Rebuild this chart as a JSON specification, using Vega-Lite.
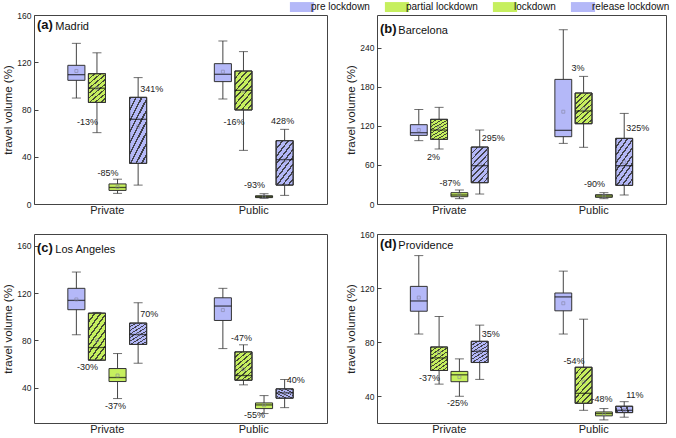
{
  "$schema": "https://vega.github.io/schema/vega-lite/v6.json",
  "background": "white",
  "padding": {"left": 2, "top": 1, "right": 4, "bottom": 0},
  "autosize": {"type": "pad"},
  "datasets": {
    "boxes": [
      {"city": "Madrid", "group": "Private", "phase": "pre lockdown", "min": 89.7, "q1": 104.7, "median": 109.5, "q3": 117.4, "max": 136, "mean": 112.6},
      {"city": "Madrid", "group": "Private", "phase": "partial lockdown", "min": 60.4, "q1": 86, "median": 98, "q3": 110.3, "max": 128, "mean": 98, "note": "-13%", "note_y": 69, "note_side": "L"},
      {"city": "Madrid", "group": "Private", "phase": "lockdown", "min": 9, "q1": 11.5, "median": 14, "q3": 17, "max": 21, "mean": 14.5, "note": "-85%", "note_y": 26, "note_side": "L"},
      {"city": "Madrid", "group": "Private", "phase": "release lockdown", "min": 16, "q1": 34.4, "median": 71.7, "q3": 90.3, "max": 107, "mean": 65.5, "note": "341%", "note_y": 97, "note_side": "R"},
      {"city": "Madrid", "group": "Public", "phase": "pre lockdown", "min": 88.9, "q1": 103.6, "median": 109.8, "q3": 118.8, "max": 138, "mean": 112},
      {"city": "Madrid", "group": "Public", "phase": "partial lockdown", "min": 45.4, "q1": 79.6, "median": 96.2, "q3": 112.6, "max": 129, "mean": 96, "note": "-16%", "note_y": 69, "note_side": "L"},
      {"city": "Madrid", "group": "Public", "phase": "lockdown", "min": 4.8, "q1": 5.4, "median": 6.2, "q3": 7, "max": 8.7, "mean": 6.3, "note": "-93%", "note_y": 16, "note_side": "L"},
      {"city": "Madrid", "group": "Public", "phase": "release lockdown", "min": 7.3, "q1": 16, "median": 37.5, "q3": 53.6, "max": 63.2, "mean": 37, "note": "428%", "note_y": 70, "note_side": "C"},

      {"city": "Barcelona", "group": "Private", "phase": "pre lockdown", "min": 97.2, "q1": 105.3, "median": 109.4, "q3": 121.7, "max": 145, "mean": 113.5},
      {"city": "Barcelona", "group": "Private", "phase": "partial lockdown", "min": 84.4, "q1": 99.2, "median": 113.5, "q3": 129.9, "max": 148.3, "mean": 117, "note": "2%", "note_y": 72.6, "note_side": "L"},
      {"city": "Barcelona", "group": "Private", "phase": "lockdown", "min": 8.2, "q1": 11.2, "median": 13.8, "q3": 17.4, "max": 21.5, "mean": 14, "note": "-87%", "note_y": 32.7, "note_side": "L"},
      {"city": "Barcelona", "group": "Private", "phase": "release lockdown", "min": 15.3, "q1": 32.7, "median": 58.8, "q3": 87.4, "max": 113.5, "mean": 61, "note": "295%", "note_y": 101, "note_side": "R"},
      {"city": "Barcelona", "group": "Public", "phase": "pre lockdown", "min": 93, "q1": 103.3, "median": 113, "q3": 191.2, "max": 267.4, "mean": 141.6},
      {"city": "Barcelona", "group": "Public", "phase": "partial lockdown", "min": 87, "q1": 123.2, "median": 142.7, "q3": 170.3, "max": 195.8, "mean": 146, "note": "3%", "note_y": 208, "note_side": "L"},
      {"city": "Barcelona", "group": "Public", "phase": "lockdown", "min": 8.2, "q1": 10.2, "median": 12.3, "q3": 14.3, "max": 17.4, "mean": 12, "note": "-90%", "note_y": 30, "note_side": "L"},
      {"city": "Barcelona", "group": "Public", "phase": "release lockdown", "min": 13.8, "q1": 28.6, "median": 58.8, "q3": 100.7, "max": 139, "mean": 64, "note": "325%", "note_y": 116, "note_side": "R"},

      {"city": "Los Angeles", "group": "Private", "phase": "pre lockdown", "min": 84.7, "q1": 105.9, "median": 113.8, "q3": 124, "max": 137.8, "mean": 114.6},
      {"city": "Los Angeles", "group": "Private", "phase": "partial lockdown", "min": 63.2, "q1": 63.2, "median": 73.9, "q3": 103, "max": 103.6, "mean": 79.9, "note": "-30%", "note_y": 57.5, "note_side": "L"},
      {"city": "Los Angeles", "group": "Private", "phase": "lockdown", "min": 30.7, "q1": 45.1, "median": 48.5, "q3": 56.1, "max": 68.8, "mean": 50.2, "note": "-37%", "note_y": 24.2, "note_side": "C"},
      {"city": "Los Angeles", "group": "Private", "phase": "release lockdown", "min": 60.6, "q1": 76.5, "median": 84.9, "q3": 94.6, "max": 111.8, "mean": 85, "note": "70%", "note_y": 102.5, "note_side": "R"},
      {"city": "Los Angeles", "group": "Public", "phase": "pre lockdown", "min": 73, "q1": 96.8, "median": 109, "q3": 116, "max": 124, "mean": 105.6},
      {"city": "Los Angeles", "group": "Public", "phase": "partial lockdown", "min": 42.3, "q1": 46.2, "median": 50.2, "q3": 70.2, "max": 76.2, "mean": 55.5, "note": "-47%", "note_y": 82, "note_side": "C"},
      {"city": "Los Angeles", "group": "Public", "phase": "lockdown", "min": 18, "q1": 22.2, "median": 25.3, "q3": 27, "max": 33.2, "mean": 25, "note": "-55%", "note_y": 16.5, "note_side": "L"},
      {"city": "Los Angeles", "group": "Public", "phase": "release lockdown", "min": 23, "q1": 31, "median": 35.5, "q3": 38.9, "max": 46.8, "mean": 35, "note": "40%", "note_y": 46, "note_side": "R"},

      {"city": "Providence", "group": "Private", "phase": "pre lockdown", "min": 85.9, "q1": 102.8, "median": 110.4, "q3": 121.2, "max": 144, "mean": 112.9},
      {"city": "Providence", "group": "Private", "phase": "partial lockdown", "min": 48.8, "q1": 58.9, "median": 68.2, "q3": 76.3, "max": 98.9, "mean": 71.9, "note": "-37%", "note_y": 53.5, "note_side": "L"},
      {"city": "Providence", "group": "Private", "phase": "lockdown", "min": 39.8, "q1": 50.6, "median": 55.7, "q3": 58.2, "max": 67.5, "mean": 54, "note": "-25%", "note_y": 34.6, "note_side": "C"},
      {"city": "Providence", "group": "Private", "phase": "release lockdown", "min": 52.3, "q1": 64.8, "median": 73.1, "q3": 80.5, "max": 92.5, "mean": 73, "note": "35%", "note_y": 86, "note_side": "R"},
      {"city": "Providence", "group": "Public", "phase": "pre lockdown", "min": 85.9, "q1": 103.1, "median": 113.4, "q3": 116.3, "max": 132.5, "mean": 108.7},
      {"city": "Providence", "group": "Public", "phase": "partial lockdown", "min": 29.4, "q1": 34.6, "median": 42, "q3": 61.3, "max": 96.9, "mean": 50.6, "note": "-54%", "note_y": 65.8, "note_side": "L"},
      {"city": "Providence", "group": "Public", "phase": "lockdown", "min": 22.3, "q1": 25.3, "median": 27, "q3": 28.2, "max": 30.7, "mean": 26.5, "note": "-48%", "note_y": 37.5, "note_side": "C"},
      {"city": "Providence", "group": "Public", "phase": "release lockdown", "min": 24.3, "q1": 27.7, "median": 29.4, "q3": 32.4, "max": 35.8, "mean": 29.5, "note": "11%", "note_y": 40.7, "note_side": "R"}
    ]
  },
  "data": {"name": "boxes"},
  "columns": 2,
  "spacing": {"row": 13, "column": 17},
  "resolve": {"scale": {"y": "independent", "x": "independent", "xOffset": "independent"}},
  "config": {
    "font": "Liberation Sans",
    "view": {"stroke": "#444", "strokeWidth": 1},
    "axis": {"grid": false, "domain": false, "labelFont": "Liberation Sans", "titleFont": "Liberation Sans", "labelColor": "#222", "titleColor": "#222", "tickColor": "#444"},
    "axisY": {"tickSize": -4, "labelFontSize": 8.5, "labelPadding": 7, "titleFontSize": 11.5, "titleFontWeight": "normal", "titlePadding": 3},
    "axisX": {"ticks": false, "labelFontSize": 11, "labelPadding": 0, "labelAngle": 0},
    "legend": {"orient": "none", "legendX": 262, "legendY": -14, "padding": 0, "direction": "horizontal", "title": null, "symbolType": "M-2.2,-0.9H2.2V0.9H-2.2Z", "symbolSize": 121, "symbolStrokeColor": "#333", "symbolStrokeWidth": 1, "symbolOpacity": 1, "labelFontSize": 10, "labelFont": "Liberation Sans", "labelColor": "#111", "columnPadding": 12, "labelOffset": 3}
  },
  "concat": [
    {
      "width": 293, "height": 189,
      "title": {"text": "(a)", "subtitle": "\u200b\u00a0\u00a0\u00a0\u00a0\u00a0\u00a0Madrid", "anchor": "start", "frame": "group", "offset": -21, "fontSize": 13, "fontWeight": "bold", "subtitleFontSize": 11, "subtitlePadding": -11.5, "dx": 3, "font": "Liberation Sans", "subtitleFont": "Liberation Sans", "color": "#111", "subtitleColor": "#111"},
      "transform": [{"filter": "datum.city === 'Madrid'"}],
      "encoding": {
        "x": {"field": "group", "type": "nominal", "sort": ["Private", "Public"], "scale": {"paddingInner": 0.4, "paddingOuter": 0.2}, "axis": {"title": null}},
        "xOffset": {"field": "phase", "type": "nominal", "sort": ["pre lockdown", "partial lockdown", "lockdown", "release lockdown"], "scale": {"paddingInner": 0.17, "paddingOuter": 0.22}}
      },
      "layer": [
        {"mark": {"type": "rule", "color": "#444", "strokeWidth": 1}, "encoding": {"y": {"field": "min", "type": "quantitative", "title": "travel volume (%)", "scale": {"domain": [0, 160], "nice": false, "zero": false}, "axis": {"values": [0, 40, 80, 120, 160]}}, "y2": {"field": "max"}}},
        {"mark": {"type": "tick", "color": "#333", "size": 9, "thickness": 1}, "encoding": {"y": {"field": "min", "type": "quantitative", "title": "travel volume (%)"}}},
        {"mark": {"type": "tick", "color": "#333", "size": 9, "thickness": 1}, "encoding": {"y": {"field": "max", "type": "quantitative", "title": "travel volume (%)"}}},
        {"mark": {"type": "bar", "stroke": "#333", "strokeWidth": 1}, "encoding": {"y": {"field": "q1", "type": "quantitative", "title": "travel volume (%)"}, "y2": {"field": "q3"}, "color": {"field": "phase", "type": "nominal", "scale": {"domain": ["pre lockdown", "partial lockdown", "lockdown", "release lockdown"], "range": ["#b4b8f8", "#c6ef5e", "#c6ef5e", "#b4b8f8"]}, "legend": {"encode": {"symbols": {"update": {"fill": {"signal": "datum.value === 'partial lockdown' ? {gradient: 'linear', x1: 0, y1: 0, x2: 1.2055, y2: 0.548, stops: [{offset: 0, color: '#555555'}, {offset: 0.04, color: '#555555'}, {offset: 0.04, color: '#c6ef5e'}, {offset: 0.1667, color: '#c6ef5e'}, {offset: 0.1667, color: '#555555'}, {offset: 0.2067, color: '#555555'}, {offset: 0.2067, color: '#c6ef5e'}, {offset: 0.3333, color: '#c6ef5e'}, {offset: 0.3333, color: '#555555'}, {offset: 0.3733, color: '#555555'}, {offset: 0.3733, color: '#c6ef5e'}, {offset: 0.5, color: '#c6ef5e'}, {offset: 0.5, color: '#555555'}, {offset: 0.54, color: '#555555'}, {offset: 0.54, color: '#c6ef5e'}, {offset: 0.6667, color: '#c6ef5e'}, {offset: 0.6667, color: '#555555'}, {offset: 0.7067, color: '#555555'}, {offset: 0.7067, color: '#c6ef5e'}, {offset: 0.8333, color: '#c6ef5e'}, {offset: 0.8333, color: '#555555'}, {offset: 0.8733, color: '#555555'}, {offset: 0.8733, color: '#c6ef5e'}, {offset: 1, color: '#c6ef5e'}]} : datum.value === 'release lockdown' ? {gradient: 'linear', x1: 0, y1: 0, x2: 1.2055, y2: 0.548, stops: [{offset: 0, color: '#555555'}, {offset: 0.04, color: '#555555'}, {offset: 0.04, color: '#b4b8f8'}, {offset: 0.1667, color: '#b4b8f8'}, {offset: 0.1667, color: '#555555'}, {offset: 0.2067, color: '#555555'}, {offset: 0.2067, color: '#b4b8f8'}, {offset: 0.3333, color: '#b4b8f8'}, {offset: 0.3333, color: '#555555'}, {offset: 0.3733, color: '#555555'}, {offset: 0.3733, color: '#b4b8f8'}, {offset: 0.5, color: '#b4b8f8'}, {offset: 0.5, color: '#555555'}, {offset: 0.54, color: '#555555'}, {offset: 0.54, color: '#b4b8f8'}, {offset: 0.6667, color: '#b4b8f8'}, {offset: 0.6667, color: '#555555'}, {offset: 0.7067, color: '#555555'}, {offset: 0.7067, color: '#b4b8f8'}, {offset: 0.8333, color: '#b4b8f8'}, {offset: 0.8333, color: '#555555'}, {offset: 0.8733, color: '#555555'}, {offset: 0.8733, color: '#b4b8f8'}, {offset: 1, color: '#b4b8f8'}]} : scale('color', datum.value)"}}}}}}}},
        {"transform": [{"filter": "datum.phase === 'partial lockdown' || datum.phase === 'release lockdown'"}], "mark": {"type": "bar", "stroke": "#333", "strokeWidth": 1, "fill": {"gradient": "linear", "x1": 0, "y1": 0, "x2": 0.6, "y2": 1.2, "stops": [
          {"offset": 0, "color": "rgba(45,45,45,0.85)"}, {"offset": 0.0333, "color": "rgba(45,45,45,0.85)"}, {"offset": 0.0333, "color": "rgba(45,45,45,0)"}, {"offset": 0.1111, "color": "rgba(45,45,45,0)"},
          {"offset": 0.1111, "color": "rgba(45,45,45,0.85)"}, {"offset": 0.1444, "color": "rgba(45,45,45,0.85)"}, {"offset": 0.1444, "color": "rgba(45,45,45,0)"}, {"offset": 0.2222, "color": "rgba(45,45,45,0)"},
          {"offset": 0.2222, "color": "rgba(45,45,45,0.85)"}, {"offset": 0.2556, "color": "rgba(45,45,45,0.85)"}, {"offset": 0.2556, "color": "rgba(45,45,45,0)"}, {"offset": 0.3333, "color": "rgba(45,45,45,0)"},
          {"offset": 0.3333, "color": "rgba(45,45,45,0.85)"}, {"offset": 0.3667, "color": "rgba(45,45,45,0.85)"}, {"offset": 0.3667, "color": "rgba(45,45,45,0)"}, {"offset": 0.4444, "color": "rgba(45,45,45,0)"},
          {"offset": 0.4444, "color": "rgba(45,45,45,0.85)"}, {"offset": 0.4778, "color": "rgba(45,45,45,0.85)"}, {"offset": 0.4778, "color": "rgba(45,45,45,0)"}, {"offset": 0.5556, "color": "rgba(45,45,45,0)"},
          {"offset": 0.5556, "color": "rgba(45,45,45,0.85)"}, {"offset": 0.5889, "color": "rgba(45,45,45,0.85)"}, {"offset": 0.5889, "color": "rgba(45,45,45,0)"}, {"offset": 0.6667, "color": "rgba(45,45,45,0)"},
          {"offset": 0.6667, "color": "rgba(45,45,45,0.85)"}, {"offset": 0.7, "color": "rgba(45,45,45,0.85)"}, {"offset": 0.7, "color": "rgba(45,45,45,0)"}, {"offset": 0.7778, "color": "rgba(45,45,45,0)"},
          {"offset": 0.7778, "color": "rgba(45,45,45,0.85)"}, {"offset": 0.8111, "color": "rgba(45,45,45,0.85)"}, {"offset": 0.8111, "color": "rgba(45,45,45,0)"}, {"offset": 0.8889, "color": "rgba(45,45,45,0)"},
          {"offset": 0.8889, "color": "rgba(45,45,45,0.85)"}, {"offset": 0.9222, "color": "rgba(45,45,45,0.85)"}, {"offset": 0.9222, "color": "rgba(45,45,45,0)"}, {"offset": 1, "color": "rgba(45,45,45,0)"}
        ]}}, "encoding": {"y": {"field": "q1", "type": "quantitative", "title": "travel volume (%)"}, "y2": {"field": "q3"}}},
        {"mark": {"type": "tick", "color": "#111", "size": 17, "thickness": 1.3}, "encoding": {"y": {"field": "median", "type": "quantitative", "title": "travel volume (%)"}}},
        {"mark": {"type": "point", "shape": "square", "size": 9, "filled": false, "color": "#80809a", "strokeWidth": 0.8}, "encoding": {"y": {"field": "mean", "type": "quantitative", "title": "travel volume (%)"}}},
        {"transform": [{"filter": "datum.note_side === 'L'"}], "mark": {"type": "text", "align": "right", "baseline": "middle", "dx": 1, "fontSize": 9, "color": "#222"}, "encoding": {"y": {"field": "note_y", "type": "quantitative", "title": "travel volume (%)"}, "text": {"field": "note"}}},
        {"transform": [{"filter": "datum.note_side === 'C'"}], "mark": {"type": "text", "align": "center", "baseline": "middle", "dx": -2, "fontSize": 9, "color": "#222"}, "encoding": {"y": {"field": "note_y", "type": "quantitative", "title": "travel volume (%)"}, "text": {"field": "note"}}},
        {"transform": [{"filter": "datum.note_side === 'R'"}], "mark": {"type": "text", "align": "left", "baseline": "middle", "dx": 2, "fontSize": 9, "color": "#222"}, "encoding": {"y": {"field": "note_y", "type": "quantitative", "title": "travel volume (%)"}, "text": {"field": "note"}}}
      ]
    },
    {
      "width": 289, "height": 189,
      "title": {"text": "(b)", "subtitle": "\u200b\u00a0\u00a0\u00a0\u00a0\u00a0\u00a0Barcelona", "anchor": "start", "frame": "group", "offset": -21, "fontSize": 13, "fontWeight": "bold", "subtitleFontSize": 11, "subtitlePadding": -11.5, "dx": 3, "font": "Liberation Sans", "subtitleFont": "Liberation Sans", "color": "#111", "subtitleColor": "#111"},
      "transform": [{"filter": "datum.city === 'Barcelona'"}],
      "encoding": {
        "x": {"field": "group", "type": "nominal", "sort": ["Private", "Public"], "scale": {"paddingInner": 0.4, "paddingOuter": 0.2}, "axis": {"title": null}},
        "xOffset": {"field": "phase", "type": "nominal", "sort": ["pre lockdown", "partial lockdown", "lockdown", "release lockdown"], "scale": {"paddingInner": 0.17, "paddingOuter": 0.22}}
      },
      "layer": [
        {"mark": {"type": "rule", "color": "#444", "strokeWidth": 1}, "encoding": {"y": {"field": "min", "type": "quantitative", "title": "travel volume (%)", "scale": {"domain": [0, 290], "nice": false, "zero": false}, "axis": {"values": [0, 60, 120, 180, 240]}}, "y2": {"field": "max"}}},
        {"mark": {"type": "tick", "color": "#333", "size": 9, "thickness": 1}, "encoding": {"y": {"field": "min", "type": "quantitative", "title": "travel volume (%)"}}},
        {"mark": {"type": "tick", "color": "#333", "size": 9, "thickness": 1}, "encoding": {"y": {"field": "max", "type": "quantitative", "title": "travel volume (%)"}}},
        {"mark": {"type": "bar", "stroke": "#333", "strokeWidth": 1}, "encoding": {"y": {"field": "q1", "type": "quantitative", "title": "travel volume (%)"}, "y2": {"field": "q3"}, "color": {"field": "phase", "type": "nominal"}}},
        {"transform": [{"filter": "datum.phase === 'partial lockdown' || datum.phase === 'release lockdown'"}], "mark": {"type": "bar", "stroke": "#333", "strokeWidth": 1, "fill": {"gradient": "linear", "x1": 0, "y1": 0, "x2": 0.6, "y2": 1.2, "stops": [
          {"offset": 0, "color": "rgba(45,45,45,0.85)"}, {"offset": 0.0333, "color": "rgba(45,45,45,0.85)"}, {"offset": 0.0333, "color": "rgba(45,45,45,0)"}, {"offset": 0.1111, "color": "rgba(45,45,45,0)"},
          {"offset": 0.1111, "color": "rgba(45,45,45,0.85)"}, {"offset": 0.1444, "color": "rgba(45,45,45,0.85)"}, {"offset": 0.1444, "color": "rgba(45,45,45,0)"}, {"offset": 0.2222, "color": "rgba(45,45,45,0)"},
          {"offset": 0.2222, "color": "rgba(45,45,45,0.85)"}, {"offset": 0.2556, "color": "rgba(45,45,45,0.85)"}, {"offset": 0.2556, "color": "rgba(45,45,45,0)"}, {"offset": 0.3333, "color": "rgba(45,45,45,0)"},
          {"offset": 0.3333, "color": "rgba(45,45,45,0.85)"}, {"offset": 0.3667, "color": "rgba(45,45,45,0.85)"}, {"offset": 0.3667, "color": "rgba(45,45,45,0)"}, {"offset": 0.4444, "color": "rgba(45,45,45,0)"},
          {"offset": 0.4444, "color": "rgba(45,45,45,0.85)"}, {"offset": 0.4778, "color": "rgba(45,45,45,0.85)"}, {"offset": 0.4778, "color": "rgba(45,45,45,0)"}, {"offset": 0.5556, "color": "rgba(45,45,45,0)"},
          {"offset": 0.5556, "color": "rgba(45,45,45,0.85)"}, {"offset": 0.5889, "color": "rgba(45,45,45,0.85)"}, {"offset": 0.5889, "color": "rgba(45,45,45,0)"}, {"offset": 0.6667, "color": "rgba(45,45,45,0)"},
          {"offset": 0.6667, "color": "rgba(45,45,45,0.85)"}, {"offset": 0.7, "color": "rgba(45,45,45,0.85)"}, {"offset": 0.7, "color": "rgba(45,45,45,0)"}, {"offset": 0.7778, "color": "rgba(45,45,45,0)"},
          {"offset": 0.7778, "color": "rgba(45,45,45,0.85)"}, {"offset": 0.8111, "color": "rgba(45,45,45,0.85)"}, {"offset": 0.8111, "color": "rgba(45,45,45,0)"}, {"offset": 0.8889, "color": "rgba(45,45,45,0)"},
          {"offset": 0.8889, "color": "rgba(45,45,45,0.85)"}, {"offset": 0.9222, "color": "rgba(45,45,45,0.85)"}, {"offset": 0.9222, "color": "rgba(45,45,45,0)"}, {"offset": 1, "color": "rgba(45,45,45,0)"}
        ]}}, "encoding": {"y": {"field": "q1", "type": "quantitative", "title": "travel volume (%)"}, "y2": {"field": "q3"}}},
        {"mark": {"type": "tick", "color": "#111", "size": 17, "thickness": 1.3}, "encoding": {"y": {"field": "median", "type": "quantitative", "title": "travel volume (%)"}}},
        {"mark": {"type": "point", "shape": "square", "size": 9, "filled": false, "color": "#80809a", "strokeWidth": 0.8}, "encoding": {"y": {"field": "mean", "type": "quantitative", "title": "travel volume (%)"}}},
        {"transform": [{"filter": "datum.note_side === 'L'"}], "mark": {"type": "text", "align": "right", "baseline": "middle", "dx": 1, "fontSize": 9, "color": "#222"}, "encoding": {"y": {"field": "note_y", "type": "quantitative", "title": "travel volume (%)"}, "text": {"field": "note"}}},
        {"transform": [{"filter": "datum.note_side === 'C'"}], "mark": {"type": "text", "align": "center", "baseline": "middle", "dx": -2, "fontSize": 9, "color": "#222"}, "encoding": {"y": {"field": "note_y", "type": "quantitative", "title": "travel volume (%)"}, "text": {"field": "note"}}},
        {"transform": [{"filter": "datum.note_side === 'R'"}], "mark": {"type": "text", "align": "left", "baseline": "middle", "dx": 2, "fontSize": 9, "color": "#222"}, "encoding": {"y": {"field": "note_y", "type": "quantitative", "title": "travel volume (%)"}, "text": {"field": "note"}}}
      ]
    },
    {
      "width": 293, "height": 189,
      "title": {"text": "(c)", "subtitle": "\u200b\u00a0\u00a0\u00a0\u00a0\u00a0\u00a0Los Angeles", "anchor": "start", "frame": "group", "offset": -21, "fontSize": 13, "fontWeight": "bold", "subtitleFontSize": 11, "subtitlePadding": -11.5, "dx": 3, "font": "Liberation Sans", "subtitleFont": "Liberation Sans", "color": "#111", "subtitleColor": "#111"},
      "transform": [{"filter": "datum.city === 'Los Angeles'"}],
      "encoding": {
        "x": {"field": "group", "type": "nominal", "sort": ["Private", "Public"], "scale": {"paddingInner": 0.4, "paddingOuter": 0.2}, "axis": {"title": null}},
        "xOffset": {"field": "phase", "type": "nominal", "sort": ["pre lockdown", "partial lockdown", "lockdown", "release lockdown"], "scale": {"paddingInner": 0.17, "paddingOuter": 0.22}}
      },
      "layer": [
        {"mark": {"type": "rule", "color": "#444", "strokeWidth": 1}, "encoding": {"y": {"field": "min", "type": "quantitative", "title": "travel volume (%)", "scale": {"domain": [10, 170], "nice": false, "zero": false}, "axis": {"values": [40, 80, 120, 160]}}, "y2": {"field": "max"}}},
        {"mark": {"type": "tick", "color": "#333", "size": 9, "thickness": 1}, "encoding": {"y": {"field": "min", "type": "quantitative", "title": "travel volume (%)"}}},
        {"mark": {"type": "tick", "color": "#333", "size": 9, "thickness": 1}, "encoding": {"y": {"field": "max", "type": "quantitative", "title": "travel volume (%)"}}},
        {"mark": {"type": "bar", "stroke": "#333", "strokeWidth": 1}, "encoding": {"y": {"field": "q1", "type": "quantitative", "title": "travel volume (%)"}, "y2": {"field": "q3"}, "color": {"field": "phase", "type": "nominal"}}},
        {"transform": [{"filter": "datum.phase === 'partial lockdown' || datum.phase === 'release lockdown'"}], "mark": {"type": "bar", "stroke": "#333", "strokeWidth": 1, "fill": {"gradient": "linear", "x1": 0, "y1": 0, "x2": 0.6, "y2": 1.2, "stops": [
          {"offset": 0, "color": "rgba(45,45,45,0.85)"}, {"offset": 0.0333, "color": "rgba(45,45,45,0.85)"}, {"offset": 0.0333, "color": "rgba(45,45,45,0)"}, {"offset": 0.1111, "color": "rgba(45,45,45,0)"},
          {"offset": 0.1111, "color": "rgba(45,45,45,0.85)"}, {"offset": 0.1444, "color": "rgba(45,45,45,0.85)"}, {"offset": 0.1444, "color": "rgba(45,45,45,0)"}, {"offset": 0.2222, "color": "rgba(45,45,45,0)"},
          {"offset": 0.2222, "color": "rgba(45,45,45,0.85)"}, {"offset": 0.2556, "color": "rgba(45,45,45,0.85)"}, {"offset": 0.2556, "color": "rgba(45,45,45,0)"}, {"offset": 0.3333, "color": "rgba(45,45,45,0)"},
          {"offset": 0.3333, "color": "rgba(45,45,45,0.85)"}, {"offset": 0.3667, "color": "rgba(45,45,45,0.85)"}, {"offset": 0.3667, "color": "rgba(45,45,45,0)"}, {"offset": 0.4444, "color": "rgba(45,45,45,0)"},
          {"offset": 0.4444, "color": "rgba(45,45,45,0.85)"}, {"offset": 0.4778, "color": "rgba(45,45,45,0.85)"}, {"offset": 0.4778, "color": "rgba(45,45,45,0)"}, {"offset": 0.5556, "color": "rgba(45,45,45,0)"},
          {"offset": 0.5556, "color": "rgba(45,45,45,0.85)"}, {"offset": 0.5889, "color": "rgba(45,45,45,0.85)"}, {"offset": 0.5889, "color": "rgba(45,45,45,0)"}, {"offset": 0.6667, "color": "rgba(45,45,45,0)"},
          {"offset": 0.6667, "color": "rgba(45,45,45,0.85)"}, {"offset": 0.7, "color": "rgba(45,45,45,0.85)"}, {"offset": 0.7, "color": "rgba(45,45,45,0)"}, {"offset": 0.7778, "color": "rgba(45,45,45,0)"},
          {"offset": 0.7778, "color": "rgba(45,45,45,0.85)"}, {"offset": 0.8111, "color": "rgba(45,45,45,0.85)"}, {"offset": 0.8111, "color": "rgba(45,45,45,0)"}, {"offset": 0.8889, "color": "rgba(45,45,45,0)"},
          {"offset": 0.8889, "color": "rgba(45,45,45,0.85)"}, {"offset": 0.9222, "color": "rgba(45,45,45,0.85)"}, {"offset": 0.9222, "color": "rgba(45,45,45,0)"}, {"offset": 1, "color": "rgba(45,45,45,0)"}
        ]}}, "encoding": {"y": {"field": "q1", "type": "quantitative", "title": "travel volume (%)"}, "y2": {"field": "q3"}}},
        {"mark": {"type": "tick", "color": "#111", "size": 17, "thickness": 1.3}, "encoding": {"y": {"field": "median", "type": "quantitative", "title": "travel volume (%)"}}},
        {"mark": {"type": "point", "shape": "square", "size": 9, "filled": false, "color": "#80809a", "strokeWidth": 0.8}, "encoding": {"y": {"field": "mean", "type": "quantitative", "title": "travel volume (%)"}}},
        {"transform": [{"filter": "datum.note_side === 'L'"}], "mark": {"type": "text", "align": "right", "baseline": "middle", "dx": 1, "fontSize": 9, "color": "#222"}, "encoding": {"y": {"field": "note_y", "type": "quantitative", "title": "travel volume (%)"}, "text": {"field": "note"}}},
        {"transform": [{"filter": "datum.note_side === 'C'"}], "mark": {"type": "text", "align": "center", "baseline": "middle", "dx": -2, "fontSize": 9, "color": "#222"}, "encoding": {"y": {"field": "note_y", "type": "quantitative", "title": "travel volume (%)"}, "text": {"field": "note"}}},
        {"transform": [{"filter": "datum.note_side === 'R'"}], "mark": {"type": "text", "align": "left", "baseline": "middle", "dx": 2, "fontSize": 9, "color": "#222"}, "encoding": {"y": {"field": "note_y", "type": "quantitative", "title": "travel volume (%)"}, "text": {"field": "note"}}}
      ]
    },
    {
      "width": 289, "height": 189,
      "title": {"text": "(d)", "subtitle": "\u200b\u00a0\u00a0\u00a0\u00a0\u00a0\u00a0Providence", "anchor": "start", "frame": "group", "offset": -21, "fontSize": 13, "fontWeight": "bold", "subtitleFontSize": 11, "subtitlePadding": -11.5, "dx": 3, "font": "Liberation Sans", "subtitleFont": "Liberation Sans", "color": "#111", "subtitleColor": "#111"},
      "transform": [{"filter": "datum.city === 'Providence'"}],
      "encoding": {
        "x": {"field": "group", "type": "nominal", "sort": ["Private", "Public"], "scale": {"paddingInner": 0.4, "paddingOuter": 0.2}, "axis": {"title": null}},
        "xOffset": {"field": "phase", "type": "nominal", "sort": ["pre lockdown", "partial lockdown", "lockdown", "release lockdown"], "scale": {"paddingInner": 0.17, "paddingOuter": 0.22}}
      },
      "layer": [
        {"mark": {"type": "rule", "color": "#444", "strokeWidth": 1}, "encoding": {"y": {"field": "min", "type": "quantitative", "title": "travel volume (%)", "scale": {"domain": [20, 160], "nice": false, "zero": false}, "axis": {"values": [40, 80, 120, 160]}}, "y2": {"field": "max"}}},
        {"mark": {"type": "tick", "color": "#333", "size": 9, "thickness": 1}, "encoding": {"y": {"field": "min", "type": "quantitative", "title": "travel volume (%)"}}},
        {"mark": {"type": "tick", "color": "#333", "size": 9, "thickness": 1}, "encoding": {"y": {"field": "max", "type": "quantitative", "title": "travel volume (%)"}}},
        {"mark": {"type": "bar", "stroke": "#333", "strokeWidth": 1}, "encoding": {"y": {"field": "q1", "type": "quantitative", "title": "travel volume (%)"}, "y2": {"field": "q3"}, "color": {"field": "phase", "type": "nominal"}}},
        {"transform": [{"filter": "datum.phase === 'partial lockdown' || datum.phase === 'release lockdown'"}], "mark": {"type": "bar", "stroke": "#333", "strokeWidth": 1, "fill": {"gradient": "linear", "x1": 0, "y1": 0, "x2": 0.6, "y2": 1.2, "stops": [
          {"offset": 0, "color": "rgba(45,45,45,0.85)"}, {"offset": 0.0333, "color": "rgba(45,45,45,0.85)"}, {"offset": 0.0333, "color": "rgba(45,45,45,0)"}, {"offset": 0.1111, "color": "rgba(45,45,45,0)"},
          {"offset": 0.1111, "color": "rgba(45,45,45,0.85)"}, {"offset": 0.1444, "color": "rgba(45,45,45,0.85)"}, {"offset": 0.1444, "color": "rgba(45,45,45,0)"}, {"offset": 0.2222, "color": "rgba(45,45,45,0)"},
          {"offset": 0.2222, "color": "rgba(45,45,45,0.85)"}, {"offset": 0.2556, "color": "rgba(45,45,45,0.85)"}, {"offset": 0.2556, "color": "rgba(45,45,45,0)"}, {"offset": 0.3333, "color": "rgba(45,45,45,0)"},
          {"offset": 0.3333, "color": "rgba(45,45,45,0.85)"}, {"offset": 0.3667, "color": "rgba(45,45,45,0.85)"}, {"offset": 0.3667, "color": "rgba(45,45,45,0)"}, {"offset": 0.4444, "color": "rgba(45,45,45,0)"},
          {"offset": 0.4444, "color": "rgba(45,45,45,0.85)"}, {"offset": 0.4778, "color": "rgba(45,45,45,0.85)"}, {"offset": 0.4778, "color": "rgba(45,45,45,0)"}, {"offset": 0.5556, "color": "rgba(45,45,45,0)"},
          {"offset": 0.5556, "color": "rgba(45,45,45,0.85)"}, {"offset": 0.5889, "color": "rgba(45,45,45,0.85)"}, {"offset": 0.5889, "color": "rgba(45,45,45,0)"}, {"offset": 0.6667, "color": "rgba(45,45,45,0)"},
          {"offset": 0.6667, "color": "rgba(45,45,45,0.85)"}, {"offset": 0.7, "color": "rgba(45,45,45,0.85)"}, {"offset": 0.7, "color": "rgba(45,45,45,0)"}, {"offset": 0.7778, "color": "rgba(45,45,45,0)"},
          {"offset": 0.7778, "color": "rgba(45,45,45,0.85)"}, {"offset": 0.8111, "color": "rgba(45,45,45,0.85)"}, {"offset": 0.8111, "color": "rgba(45,45,45,0)"}, {"offset": 0.8889, "color": "rgba(45,45,45,0)"},
          {"offset": 0.8889, "color": "rgba(45,45,45,0.85)"}, {"offset": 0.9222, "color": "rgba(45,45,45,0.85)"}, {"offset": 0.9222, "color": "rgba(45,45,45,0)"}, {"offset": 1, "color": "rgba(45,45,45,0)"}
        ]}}, "encoding": {"y": {"field": "q1", "type": "quantitative", "title": "travel volume (%)"}, "y2": {"field": "q3"}}},
        {"mark": {"type": "tick", "color": "#111", "size": 17, "thickness": 1.3}, "encoding": {"y": {"field": "median", "type": "quantitative", "title": "travel volume (%)"}}},
        {"mark": {"type": "point", "shape": "square", "size": 9, "filled": false, "color": "#80809a", "strokeWidth": 0.8}, "encoding": {"y": {"field": "mean", "type": "quantitative", "title": "travel volume (%)"}}},
        {"transform": [{"filter": "datum.note_side === 'L'"}], "mark": {"type": "text", "align": "right", "baseline": "middle", "dx": 1, "fontSize": 9, "color": "#222"}, "encoding": {"y": {"field": "note_y", "type": "quantitative", "title": "travel volume (%)"}, "text": {"field": "note"}}},
        {"transform": [{"filter": "datum.note_side === 'C'"}], "mark": {"type": "text", "align": "center", "baseline": "middle", "dx": -2, "fontSize": 9, "color": "#222"}, "encoding": {"y": {"field": "note_y", "type": "quantitative", "title": "travel volume (%)"}, "text": {"field": "note"}}},
        {"transform": [{"filter": "datum.note_side === 'R'"}], "mark": {"type": "text", "align": "left", "baseline": "middle", "dx": 2, "fontSize": 9, "color": "#222"}, "encoding": {"y": {"field": "note_y", "type": "quantitative", "title": "travel volume (%)"}, "text": {"field": "note"}}}
      ]
    }
  ]
}
